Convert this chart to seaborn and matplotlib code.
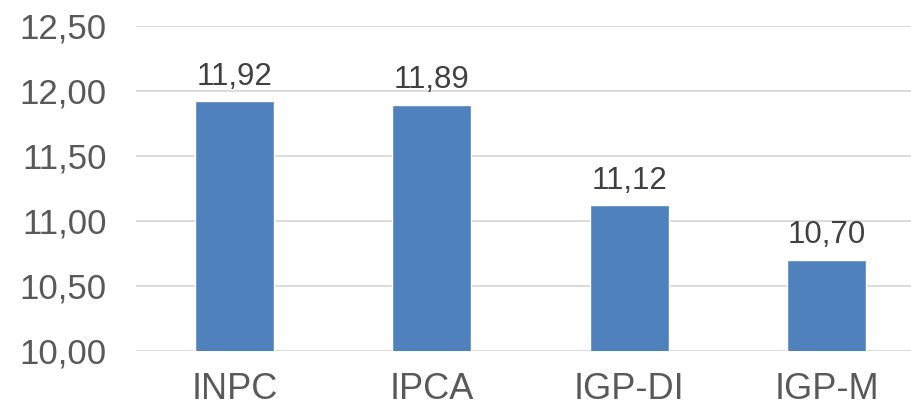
import matplotlib
matplotlib.use("Agg")
import matplotlib.pyplot as plt
import seaborn as sns
import pandas as pd
from matplotlib.ticker import FuncFormatter

categories = ["INPC", "IPCA", "IGP-DI", "IGP-M"]
values = [11.92, 11.89, 11.12, 10.70]
yticks = [10.0, 10.5, 11.0, 11.5, 12.0, 12.5]

sns.set_theme(style="white")
plt.rcParams['font.family'] = ['Liberation Sans', 'DejaVu Sans']

df = pd.DataFrame({"cat": categories, "val": values})

fig = plt.figure(figsize=(9.11, 4.11), dpi=100)
ax = fig.add_axes([0.149, 0.146, 0.867, 0.791])
sns.barplot(data=df, x="cat", y="val", color="#4F81BD", saturation=1,
            width=0.40, ax=ax, zorder=3)

ax.set_ylim(10.0, 12.5)
ax.set_yticks(yticks)
ax.yaxis.set_major_formatter(FuncFormatter(lambda v, p: f"{v:.2f}".replace(".", ",")))
ax.grid(axis="y", color="#D9D9D9", linewidth=1.3, zorder=0)
ax.grid(axis="x", visible=False)
for s in ax.spines.values():
    s.set_visible(False)
ax.set_xlabel("")
ax.set_ylabel("")
ax.tick_params(axis="y", length=0, pad=21, labelsize=25, labelcolor="#595959")
ax.tick_params(axis="x", length=0, pad=15, labelsize=26, labelcolor="#595959")

for cont in ax.containers:
    ax.bar_label(cont, labels=[f"{v:.2f}".replace(".", ",") for v in values],
                 padding=7, fontsize=22.5, color="#404040")

fig.savefig("out.png", dpi=100)
